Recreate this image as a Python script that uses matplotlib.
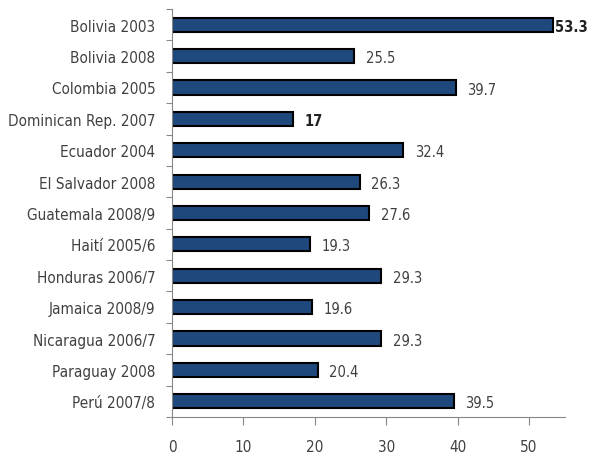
import matplotlib
matplotlib.use("Agg")
import matplotlib.pyplot as plt
import numpy as np

categories = ["Bolivia 2003", "Bolivia 2008", "Colombia 2005", "Dominican Rep. 2007",
              "Ecuador 2004", "El Salvador 2008", "Guatemala 2008/9", "Haití 2005/6",
              "Honduras 2006/7", "Jamaica 2008/9", "Nicaragua 2006/7", "Paraguay 2008",
              "Perú 2007/8"]
values = [53.3, 25.5, 39.7, 17, 32.4, 26.3, 27.6, 19.3, 29.3, 19.6, 29.3, 20.4, 39.5]
labels = ["53.3", "25.5", "39.7", "17", "32.4", "26.3", "27.6", "19.3", "29.3", "19.6", "29.3", "20.4", "39.5"]
bold_labels = ["53.3", "17"]
xticks = [0, 10, 20, 30, 40, 50]

font = dict(family="DejaVu Sans", stretch="condensed")
fs = 11

fig = plt.figure(figsize=(5.92, 4.56), dpi=100)
ax = fig.add_axes([0.2905, 0.0833, 0.954 - 0.2905, 0.978 - 0.0833])

y = np.arange(len(categories))
ax.barh(y, values, height=0.45, color="#1f497d", edgecolor="black", linewidth=1.5)
for yi, v, lab in zip(y, values, labels):
    off = 0.35 if lab == "53.3" else 1.6
    ax.text(v + off, yi + 0.05, lab, va="center", ha="left", fontsize=10.5,
            color="#222222" if lab in bold_labels else "#404040",
            fontweight="bold" if lab in bold_labels else "normal", **font)

ax.set_ylim(len(categories) - 0.5, -0.5)
ax.set_xlim(0, 55)
ax.set_yticks(y)
ax.set_yticklabels(categories, fontsize=fs, color="#404040", **font)
ax.set_yticks(np.arange(-0.5, len(categories)), minor=True)
ax.tick_params(axis="y", which="major", length=0, pad=12)
ax.tick_params(axis="y", which="minor", length=4.5, color="#888888", width=0.8)
ax.set_xticks(xticks)
ax.set_xticklabels([str(t) for t in xticks], fontsize=fs, color="#404040", **font)
ax.tick_params(axis="x", length=6, color="#888888", width=0.8, pad=10)
for s in ["top", "right"]:
    ax.spines[s].set_visible(False)
for s in ["left", "bottom"]:
    ax.spines[s].set_color("#888888")
    ax.spines[s].set_linewidth(0.8)

fig.savefig("out.png", dpi=100)
